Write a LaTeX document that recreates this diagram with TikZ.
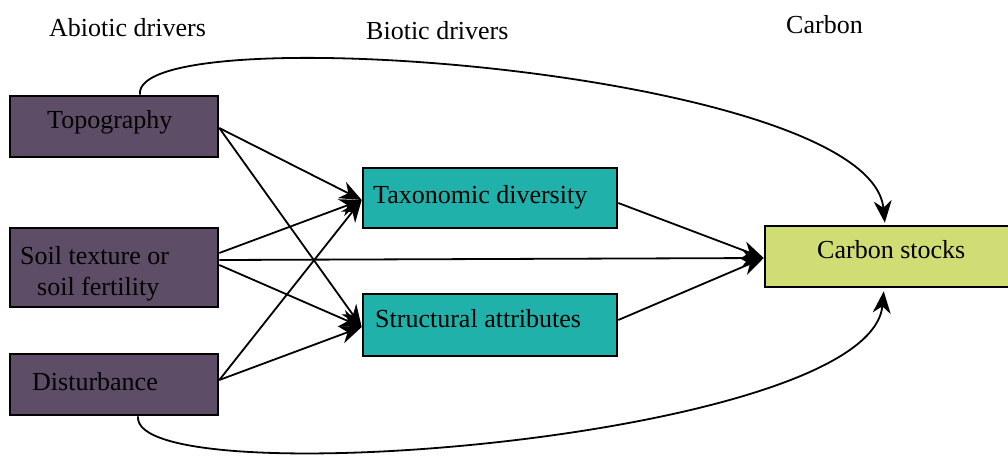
\documentclass[tikz,border=0pt]{standalone}
\usepackage{fontspec}
\setmainfont{Liberation Serif}
\newfontfamily\tnr{Liberation Serif}
\usetikzlibrary{arrows.meta}
\definecolor{abioticfill}{RGB}{94,77,102}
\definecolor{bioticfill}{RGB}{32,178,170}
\definecolor{carbonfill}{RGB}{208,220,116}
\tikzset{
  boxbase/.style={draw=black, line width=2.6pt, rectangle, inner sep=0pt},
  abox/.style={boxbase, fill=abioticfill, minimum width=208pt},
  bbox/.style={boxbase, fill=bioticfill, minimum width=254pt},
  cbox/.style={boxbase, fill=carbonfill, minimum width=250pt, minimum height=61pt},
  txt/.style={inner sep=0pt, anchor=base west, font=\tnr\fontsize{26}{30}\selectfont},
  arr/.style={draw=black, line width=1.8pt, -{Stealth[length=22pt,width=18pt,inset=7pt]}}
}
\begin{document}
\begin{tikzpicture}[x=1pt,y=-1pt]
\useasboundingbox (0,0) rectangle (1008,455);
% headers
\node[txt] (habiotic) at (49,36) {Abiotic drivers};
\node[txt] (hbiotic) at (366,39) {Biotic drivers};
\node[txt] (hcarbon) at (786,33) {Carbon};
% boxes
\node[abox, minimum height=61pt] (topo) at (114,126.5) {};
\node[abox, minimum height=79pt] (soil) at (114,267.5) {};
\node[abox, minimum height=61pt] (dist) at (114,384.5) {};
\node[bbox, minimum height=60pt] (tax) at (490,198) {};
\node[bbox, minimum height=62pt] (str) at (490,325) {};
\node[cbox] (carbon) at (890,256.5) {};
% texts
\node[txt] (ttopo) at (47,128) {Topography};
\node[txt] (tsoil1) at (20,264) {Soil texture or};
\node[txt] (tsoil2) at (37,295) {soil fertility};
\node[txt] (tdist) at (32,390) {Disturbance};
\node[txt] (ttax) at (373,203) {Taxonomic diversity};
\node[txt] (tstr) at (375,327) {Structural attributes};
\node[txt] (tcarbon) at (817,258) {Carbon stocks};
% straight connectors
\draw[arr] ([yshift=-1.5pt]topo.east) -- ([yshift=-2pt]tax.west);
\draw[arr] ([yshift=-1.5pt]topo.east) -- ([yshift=-2pt]str.west);
\draw[arr] ([yshift=14.5pt]soil.east) -- ([yshift=-2pt]tax.west);
\draw[arr] ([yshift=7.5pt]soil.east) -- ([yshift=-1.5pt]carbon.west);
\draw[arr] ([yshift=2.5pt]soil.east) -- ([yshift=-2pt]str.west);
\draw[arr] ([yshift=4.5pt]dist.east) -- ([yshift=-2pt]tax.west);
\draw[arr] ([yshift=4.5pt]dist.east) -- ([yshift=-2pt]str.west);
\draw[arr] ([yshift=-5pt]tax.east) -- ([yshift=-1.5pt]carbon.west);
\draw[arr] ([yshift=5pt]str.east) -- ([yshift=-1.5pt]carbon.west);
% curved connectors
\draw[arr, shorten >=2pt] ([xshift=26pt]topo.north) .. controls (130,15) and (870,70) .. ([xshift=-5pt]carbon.north);
\draw[arr, shorten >=3pt] ([xshift=24pt]dist.south) .. controls (130,497) and (870,440) .. ([xshift=-6pt]carbon.south);
\end{tikzpicture}
\end{document}
